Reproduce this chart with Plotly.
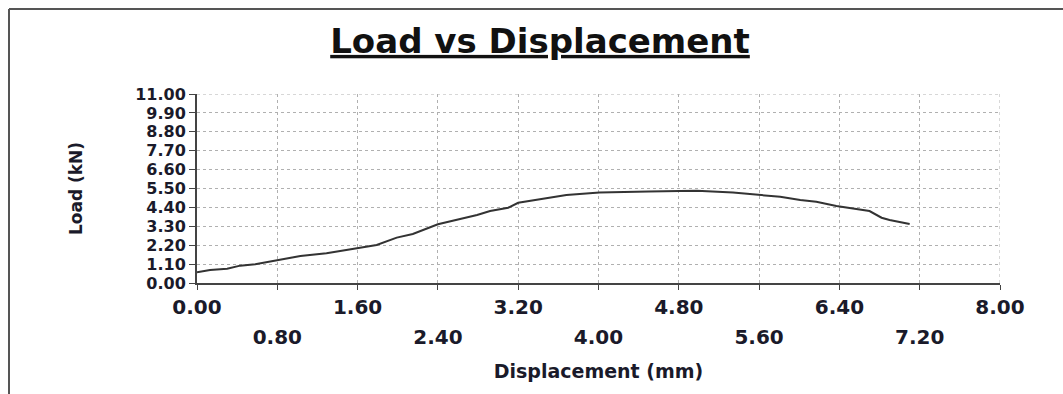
import plotly.graph_objects as go

displacement = [0.00, 0.13, 0.30, 0.43, 0.58, 0.80, 1.03, 1.29, 1.59, 1.79, 1.99, 2.15,
                2.40, 2.59, 2.79, 2.92, 3.10, 3.20, 3.42, 3.68, 4.01, 4.21, 4.50, 4.81,
                4.98, 5.34, 5.61, 5.81, 6.01, 6.17, 6.37, 6.55, 6.70, 6.82, 6.90, 7.10]
load = [0.62, 0.76, 0.83, 1.01, 1.09, 1.34, 1.57, 1.73, 2.02, 2.21, 2.64, 2.85,
        3.42, 3.67, 3.96, 4.19, 4.38, 4.67, 4.87, 5.12, 5.26, 5.30, 5.33, 5.36,
        5.37, 5.26, 5.12, 5.02, 4.83, 4.73, 4.48, 4.33, 4.19, 3.80, 3.67, 3.43]

x_ticks = [0.0, 0.8, 1.6, 2.4, 3.2, 4.0, 4.8, 5.6, 6.4, 7.2, 8.0]
y_ticks = [0.0, 1.1, 2.2, 3.3, 4.4, 5.5, 6.6, 7.7, 8.8, 9.9, 11.0]

title_text = "Load vs Displacement"
x_title = "Displacement (mm)"
y_title = "Load (kN)"

FONT = "DejaVu Sans"
TXT = "#1a1a2a"
x_even = x_ticks[0::2]
x_odd = x_ticks[1::2]

fig = go.Figure()
fig.add_trace(go.Scatter(x=displacement, y=load, mode="lines",
                         line=dict(color="#333333", width=2), showlegend=False))
# invisible trace to activate the second (odd-label) x axis
fig.add_trace(go.Scatter(x=[0, 8], y=[0, 0], xaxis="x2", mode="none",
                         showlegend=False, hoverinfo="skip"))

fig.update_layout(
    width=1063, height=394,
    margin=dict(l=197, r=63, t=94, b=111),
    paper_bgcolor="white", plot_bgcolor="white",
    title=dict(text="<b><u>" + title_text + "</u></b>", xref="container", x=0.508,
               xanchor="center", yref="container", y=1 - 41 / 394, yanchor="middle",
               font=dict(family=FONT, size=34, color="#111111")),
    xaxis=dict(range=[0, 8], tickvals=x_ticks,
               ticktext=[f"<b>{v:.2f}</b>" if v in x_even else "" for v in x_ticks],
               showgrid=True, gridcolor="#b0b0b0", griddash="dot", gridwidth=1,
               showline=True, linecolor="#444444", linewidth=2,
               ticks="outside", ticklen=5, tickwidth=1, tickcolor="#444444",
               tickfont=dict(family=FONT, size=20, color=TXT),
               zeroline=False),
    xaxis2=dict(range=[0, 8], overlaying="x", anchor="y", side="bottom",
                tickvals=x_odd, ticktext=[f"<b>{v:.2f}</b>" for v in x_odd],
                showgrid=False, showline=False, ticks="", zeroline=False,
                ticklabelstandoff=40,
                tickfont=dict(family=FONT, size=20, color=TXT),
                title=dict(text="<b>" + x_title + "</b>", standoff=16,
                           font=dict(family=FONT, size=19, color=TXT))),
    yaxis=dict(range=[0, 11], tickvals=y_ticks,
               ticktext=[f"<b>{v:.2f}</b>" for v in y_ticks],
               showgrid=True, gridcolor="#b0b0b0", griddash="dot", gridwidth=1,
               showline=True, linecolor="#444444", linewidth=2,
               ticks="outside", ticklen=6, tickwidth=1, tickcolor="#444444",
               tickfont=dict(family=FONT, size=16, color=TXT),
               zeroline=False,
               title=dict(text="<b>" + y_title + "</b>", standoff=48,
                          font=dict(family=FONT, size=17, color=TXT))),
)

# right and top boundary grid lines (8.00 and 11.00)
fig.add_shape(type="line", xref="x", yref="y", x0=8, x1=8, y0=0, y1=11,
              line=dict(color="#b0b0b0", width=1, dash="dot"))
fig.add_shape(type="line", xref="x", yref="y", x0=0, x1=8, y0=11, y1=11,
              line=dict(color="#b0b0b0", width=1, dash="dot"))

# outer frame (left and top edges)
pw, ph = 803, 189
fx = (9 - 197) / pw
fy_top = (283 - 9) / ph
fy_bot = (283 - 400) / ph
fx_right = (1070 - 197) / pw
fig.add_shape(type="line", xref="paper", yref="paper", x0=fx, x1=fx, y0=fy_bot, y1=fy_top,
              line=dict(color="#555555", width=2))
fig.add_shape(type="line", xref="paper", yref="paper", x0=fx, x1=fx_right, y0=fy_top, y1=fy_top,
              line=dict(color="#555555", width=2))

fig.write_html("out.html", config={"displayModeBar": False},
               post_script="document.body.style.margin='0';document.body.style.overflow='hidden';")
